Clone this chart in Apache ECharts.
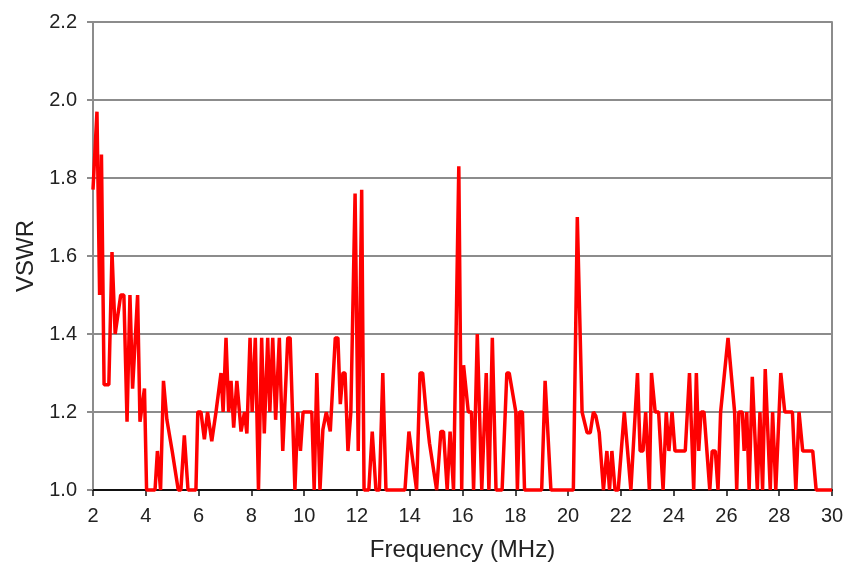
<!DOCTYPE html>
<html>
<head>
<meta charset="utf-8">
<script src="https://cdn.jsdelivr.net/npm/echarts@6/dist/echarts.min.js"></script>
<style>
html,body{margin:0;padding:0;background:#fff;}
#c{width:846px;height:563px;}
</style>
</head>
<body>
<div id="c"></div>
<script>
var freq = [2.0,2.15,2.25,2.32,2.42,2.5,2.6,2.72,2.84,3.05,3.17,3.29,3.40,3.50,3.69,3.78,3.95,4.03,4.35,4.44,4.5,4.56,4.67,4.8,5.0,5.23,5.33,5.46,5.6,5.9,5.97,6.09,6.22,6.34,6.5,6.66,6.85,6.93,7.04,7.14,7.23,7.33,7.45,7.61,7.74,7.83,7.95,8.03,8.15,8.27,8.39,8.49,8.62,8.70,8.81,8.92,9.06,9.19,9.38,9.47,9.65,9.76,9.86,9.96,10.29,10.38,10.48,10.6,10.71,10.84,10.99,11.18,11.28,11.37,11.47,11.55,11.66,11.77,11.93,12.05,12.18,12.27,12.45,12.58,12.72,12.85,12.98,13.1,13.82,13.97,14.26,14.39,14.49,14.62,14.75,15.02,15.18,15.28,15.42,15.53,15.66,15.86,15.97,16.04,16.22,16.34,16.42,16.56,16.73,16.9,17.0,17.13,17.27,17.5,17.68,17.77,18.02,18.08,18.16,18.27,18.35,19.0,19.13,19.35,20.2,20.35,20.53,20.6,20.72,20.84,20.96,21.05,21.18,21.34,21.47,21.57,21.66,21.78,21.9,22.13,22.38,22.63,22.73,22.84,22.94,23.08,23.16,23.3,23.43,23.6,23.72,23.82,23.94,24.05,24.44,24.6,24.76,24.86,24.95,25.04,25.15,25.37,25.46,25.58,25.68,25.78,26.06,26.31,26.39,26.47,26.6,26.67,26.77,26.86,26.98,27.17,27.27,27.37,27.47,27.66,27.75,27.87,28.06,28.21,28.5,28.63,28.75,28.89,29.27,29.4,30.0];
var vswr = [1.77,1.97,1.50,1.86,1.27,1.27,1.27,1.61,1.40,1.50,1.50,1.175,1.50,1.26,1.50,1.175,1.26,1.0,1.0,1.10,1.10,1.0,1.28,1.18,1.10,1.0,1.0,1.14,1.0,1.0,1.2,1.2,1.13,1.2,1.125,1.2,1.30,1.2,1.39,1.2,1.28,1.16,1.28,1.15,1.2,1.145,1.39,1.2,1.39,1.0,1.39,1.145,1.39,1.2,1.39,1.18,1.39,1.10,1.39,1.39,1.0,1.2,1.10,1.2,1.2,1.0,1.30,1.0,1.155,1.2,1.15,1.39,1.39,1.22,1.30,1.30,1.10,1.2,1.76,1.10,1.77,1.0,1.0,1.15,1.0,1.0,1.30,1.0,1.0,1.15,1.0,1.30,1.30,1.2,1.12,1.0,1.15,1.15,1.0,1.15,1.0,1.83,1.0,1.32,1.2,1.2,1.0,1.40,1.0,1.30,1.0,1.39,1.0,1.0,1.30,1.30,1.2,1.0,1.2,1.2,1.0,1.0,1.28,1.0,1.0,1.70,1.2,1.2,1.147,1.147,1.2,1.19,1.147,1.0,1.10,1.0,1.10,1.0,1.0,1.2,1.0,1.30,1.10,1.10,1.2,1.0,1.30,1.2,1.2,1.0,1.2,1.1,1.2,1.1,1.1,1.30,1.0,1.30,1.1,1.2,1.2,1.0,1.1,1.1,1.0,1.2,1.39,1.2,1.0,1.2,1.2,1.1,1.2,1.0,1.29,1.0,1.2,1.0,1.31,1.0,1.2,1.0,1.30,1.2,1.2,1.0,1.2,1.1,1.1,1.0,1.0];
var xTitle = 'Frequency (MHz)';
var yTitle = 'VSWR';

var pts = freq.map(function(f, i){ return [f, vswr[i]]; });
var chart = echarts.init(document.getElementById('c'), null, {renderer:'canvas'});
var txt = '#222';
var font = 'Liberation Sans, Arial, sans-serif';
chart.setOption({
  animation: false,
  backgroundColor: '#fff',
  grid: {left: 93, right: 14, top: 22, bottom: 73, containLabel: false, outerBoundsMode: 'none'},
  xAxis: {
    type: 'value', min: 2, max: 30, interval: 2,
    name: xTitle, nameLocation: 'middle', nameGap: 48,
    nameTextStyle: {fontSize: 24, color: txt, fontFamily: font},
    axisLine: {show: true, onZero: false, lineStyle: {color: '#111', width: 2}},
    axisTick: {show: true, length: 6, lineStyle: {color: '#111', width: 1.5}},
    axisLabel: {fontSize: 20, color: txt, fontFamily: font, margin: 16},
    splitLine: {show: false}
  },
  yAxis: [{
    type: 'value', min: 1.0, max: 2.2, interval: 0.2,
    name: yTitle, nameLocation: 'middle', nameGap: 53, nameRotate: 90,
    nameTextStyle: {fontSize: 24, color: txt, fontFamily: font},
    axisLine: {show: true, lineStyle: {color: '#8c8c8c', width: 2}},
    axisTick: {show: true, length: 6, lineStyle: {color: '#8c8c8c', width: 2}},
    axisLabel: {fontSize: 20, color: txt, fontFamily: font, margin: 16,
      formatter: function(v){ return v.toFixed(1); }},
    splitLine: {show: true, lineStyle: {color: '#8c8c8c', width: 2}}
  },{
    type: 'value', min: 1.0, max: 2.2, interval: 0.2, position: 'right',
    axisLine: {show: true, lineStyle: {color: '#8c8c8c', width: 2}},
    axisTick: {show: false}, axisLabel: {show: false}, splitLine: {show: false}
  }],
  series: [{
    type: 'line', data: pts, yAxisIndex: 0,
    showSymbol: false, symbol: 'none', smooth: false, clip: false,
    lineStyle: {color: '#ff0000', width: 3.5},
    z: 5
  }]
});
</script>
</body>
</html>
